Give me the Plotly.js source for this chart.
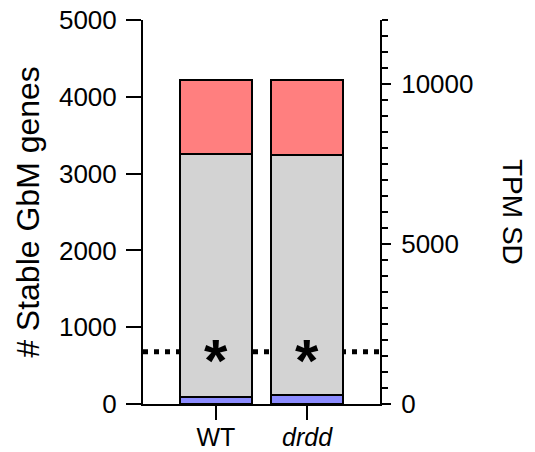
<!DOCTYPE html>
<html>
<head>
<meta charset="utf-8">
<script src="https://cdn.plot.ly/plotly-3.0.1.min.js"></script>
<style>html,body{margin:0;padding:0;background:#fff;}#chart{width:535px;height:452px;}</style>
</head>
<body>
<div id="chart"></div>
<script>
const categories = ['WT', 'drdd'];
const tickLabels = ['WT', '<i>drdd</i>'];
const lowValues = [95, 117];
const midValues = [3160, 3130];
const highValues = [964, 972];
const thresholdGenes = 681;
const starLabels = ['*', '*'];
const rightTicks = [0, 5000, 10000];
const rightTickLabels = ['0', '5000', '10000'];

const FONT = 'Liberation Sans, Arial, sans-serif';
const barLine = {color: '#000', width: 2};

const traces = [
  {type: 'bar', x: categories, y: lowValues, marker: {color: '#8C8CFF', line: barLine}, width: 0.79, hoverinfo: 'skip'},
  {type: 'bar', x: categories, y: midValues, marker: {color: '#D3D3D3', line: barLine}, width: 0.79, hoverinfo: 'skip'},
  {type: 'bar', x: categories, y: highValues, marker: {color: '#FF7F7F', line: barLine}, width: 0.79, hoverinfo: 'skip'},
  {type: 'scatter', x: categories, y: [0, 0], yaxis: 'y2', mode: 'none', showlegend: false, hoverinfo: 'skip'}
];

const layout = {
  width: 535, height: 452,
  margin: {l: 143, r: 155, t: 20, b: 48},
  barmode: 'stack',
  showlegend: false,
  paper_bgcolor: '#fff', plot_bgcolor: 'rgba(0,0,0,0)',
  font: {family: FONT, color: '#000', size: 26},
  xaxis: {
    type: 'category', range: [-0.8, 1.8],
    tickvals: categories, ticktext: tickLabels,
    showline: true, linecolor: '#000', linewidth: 2,
    ticks: 'outside', ticklen: 14, tickwidth: 2, tickcolor: '#000',
    ticklabelstandoff: -4,
    showgrid: false, zeroline: false,
    tickfont: {size: 25, family: FONT}
  },
  yaxis: {
    range: [0, 5000], dtick: 1000,
    showline: true, linecolor: '#000', linewidth: 2,
    ticks: 'outside', ticklen: 15, tickwidth: 2, tickcolor: '#000',
    ticklabelstandoff: 4,
    showgrid: false, zeroline: false,
    tickfont: {size: 26, family: FONT},
    title: {text: '# Stable GbM genes', font: {size: 32, family: FONT}, standoff: 10}
  },
  yaxis2: {
    overlaying: 'y', side: 'right', range: [0, 12000],
    tickvals: rightTicks, ticktext: rightTickLabels,
    showline: true, linecolor: '#000', linewidth: 2,
    ticks: 'outside', ticklen: 9, tickwidth: 2, tickcolor: '#000',
    ticklabelstandoff: 5,
    minor: {dtick: 500, ticks: 'outside', ticklen: 6, tickwidth: 2, tickcolor: '#000', showgrid: false},
    showgrid: false, zeroline: false,
    tickfont: {size: 26, family: FONT}
  },
  shapes: [
    {type: 'line', layer: 'below', xref: 'paper', yref: 'y', x0: 0, x1: 1, y0: thresholdGenes, y1: thresholdGenes,
     line: {color: '#000', width: 5, dash: '5px,6px'}}
  ],
  annotations: categories.map((c, i) => ({
    x: c, y: thresholdGenes, xref: 'x', yref: 'y', text: '<b>' + starLabels[i] + '</b>',
    showarrow: false, font: {size: 60, family: FONT, color: '#000'}, yanchor: 'middle', yshift: -9
  })).concat([{
    xref: 'paper', yref: 'paper', x: 1, y: 0.5, xshift: 133, xanchor: 'center', yanchor: 'middle',
    text: 'TPM SD', textangle: 90, showarrow: false, font: {size: 28, family: FONT, color: '#000'}
  }])
};

Plotly.newPlot('chart', traces, layout, {staticPlot: true, displayModeBar: false});
</script>
</body>
</html>
